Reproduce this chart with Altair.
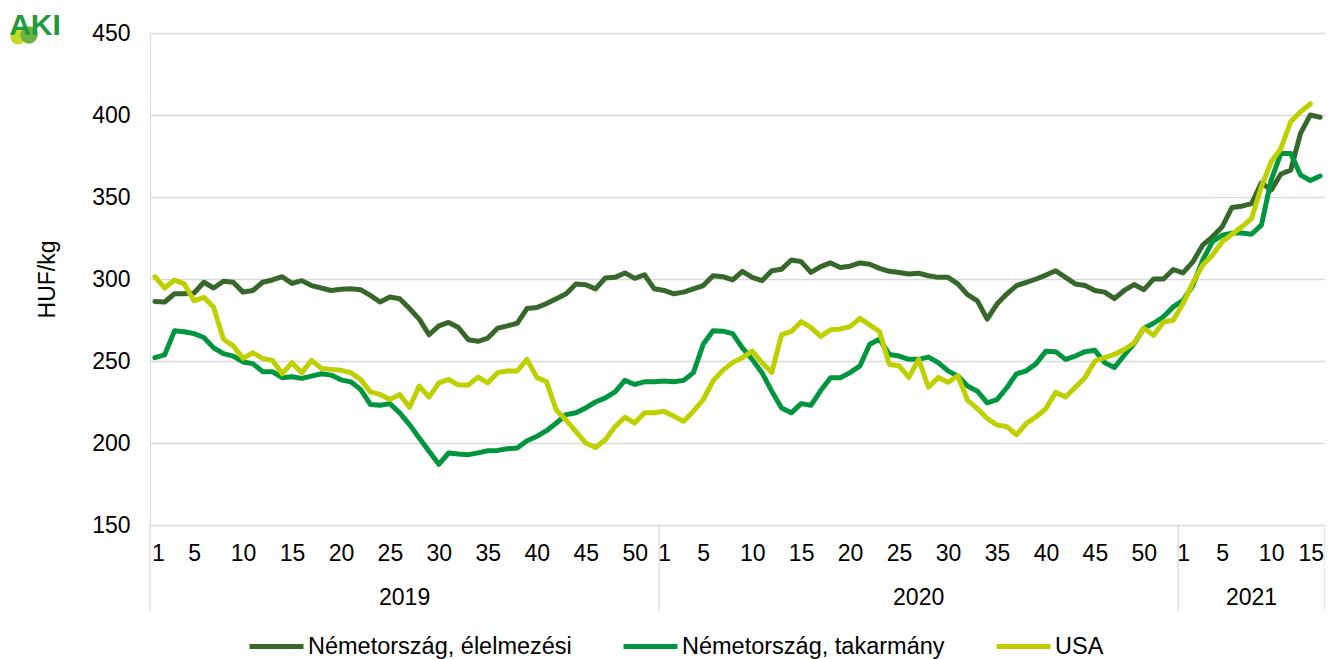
import altair as alt
import pandas as pd

# ---------------- data ----------------
series_names = ["Németország, élelmezési", "Németország, takarmány", "USA"]
series_colors = ["#38672c", "#009640", "#bed000"]

years = ["2019", "2020", "2021"]
weeks_per_year = [52, 53, 15]
week_ticks = [
    [1, 5, 10, 15, 20, 25, 30, 35, 40, 45, 50],
    [1, 5, 10, 15, 20, 25, 30, 35, 40, 45, 50],
    [1, 5, 10, 15],
]
y_ticks = [150, 200, 250, 300, 350, 400, 450]

food = [
    286.3, 286, 291, 291, 291.5, 298, 294.5, 298.6, 298, 292,
    293, 298, 299.4, 301.4, 297.3, 299, 296, 294.5, 293, 293.7,
    294, 293.5, 290, 286, 289, 288, 282, 275.5, 266, 271.4,
    273.5, 270.4, 263, 262, 264, 270, 271.4, 273, 282, 282.6,
    285, 288, 291, 297, 296.5, 294, 300.6, 301, 303.7, 300.4,
    302.6, 294,
    293, 291, 292, 294, 296, 302, 301.4, 299.4, 304.7, 301,
    299, 305, 306, 311.6, 310.6, 304, 307.5, 309.8, 307, 307.8,
    309.8, 309, 306.5, 304.7, 304, 303, 303.5, 302, 301, 301,
    297, 290.4, 286.7, 275.5, 284.7, 290.8, 296, 298, 300, 302.4,
    305, 301, 297, 296, 293, 292, 288, 293, 296.6, 293.5,
    300, 300, 305.8,
    303.7, 310.4, 320.6, 325.7, 331.8, 343.6, 344.4, 346, 358.7, 354.2,
    364, 366.4, 388.8, 400, 398.6,
]

feed = [
    252, 253.7, 268.4, 267.8, 266.7, 264.3, 258, 254.5, 253, 249.4,
    248.4, 243.5, 243.5, 239.8, 240.4, 239.4, 240.8, 242.2, 241.4, 238.5,
    237.3, 232.7, 223.5, 223, 224, 218.4, 211.2, 203, 195, 187,
    193.9, 193.3, 192.9, 194, 195.3, 195.5, 196.5, 197, 201.4, 204,
    207.5, 212.2, 217.3, 218.4, 221.4, 225, 227.5, 231.2, 238.2, 235.7,
    237.3, 237.3,
    237.8, 237.3, 238.2, 242.9, 260.2, 268.4, 268.2, 266.7, 258, 251,
    242.9, 231.6, 221.4, 218.4, 224, 223, 232, 239.8, 239.8, 242.9,
    247, 260.2, 263.3, 254, 253, 251, 251, 252.4, 249, 244,
    240.8, 234.7, 231.6, 224.5, 226.5, 233.7, 242.2, 244, 248.4, 256,
    255.7, 251, 253, 255.7, 256.5, 249, 246, 253.5, 260.6, 270,
    273, 277, 283,
    287, 296, 311.5, 322.7, 326.7, 328, 328, 327.3, 332.8, 360.3,
    376.6, 376.6, 363.4, 360, 362.8,
]

usa = [
    301.4, 294.5, 299.4, 297, 286.7, 288.8, 282.7, 263.3, 259.2, 251.6,
    255, 251.6, 250.4, 242.2, 249, 242.9, 250.4, 245.5, 244.9, 244.3,
    242.9, 238.8, 231.2, 229.6, 226.5, 229.6, 221.8, 234.7, 228, 236.7,
    238.8, 235.3, 235.3, 240.2, 236.7, 242.9, 243.9, 243.9, 251, 240,
    237.3, 220, 214, 207, 200, 197.3, 202, 210, 215.7, 212.2,
    218.4, 218.4,
    219.4, 216.3, 213.3, 219.4, 226.5, 237.8, 244.3, 249, 252, 256,
    249, 243, 266, 268, 274, 270.5, 265, 269, 269.5, 271,
    276, 272, 268, 248, 247, 240, 251, 234, 240, 237,
    241, 226, 221, 215, 211, 210, 205, 212, 216, 221,
    231, 228, 234, 240, 250, 252, 254, 257, 261, 270,
    265.7, 273.8, 274.8,
    285, 297.6, 308.4, 314.5, 322.7, 327.3, 331.8, 336.9, 356.2, 371.5,
    379.6, 395.9, 402, 406.7,
]

# ---------------- derived tables ----------------
rows = []
for name, vals in zip(series_names, [food, feed, usa]):
    for i, v in enumerate(vals):
        rows.append({"idx": i, "value": v, "series": name})
df = pd.DataFrame(rows)

n_total = sum(weeks_per_year)
offsets = [sum(weeks_per_year[:k]) for k in range(len(weeks_per_year))]
tick_vals = [offsets[k] + w - 1 for k in range(len(years)) for w in week_ticks[k]]
label_expr = (
    f"datum.value < {offsets[1]} ? '' + (datum.value + 1) : "
    f"(datum.value < {offsets[2]} ? '' + (datum.value - {offsets[1] - 1}) : '' + (datum.value - {offsets[2] - 1}))"
)
boundaries = [o - 0.5 for o in offsets] + [n_total - 0.5]
year_df = pd.DataFrame({
    "year": years,
    "center": [(boundaries[k] + boundaries[k + 1]) / 2 for k in range(len(years))],
})
sep_df = pd.DataFrame({"b": boundaries})

FONT = "Liberation Sans"
FS = 23
W, H = 1175, 492

x_scale = alt.Scale(domain=[-0.5, n_total - 0.5], nice=False, zero=False)
x_axis = alt.Axis(values=tick_vals, labelExpr=label_expr, title=None, grid=False,
                  ticks=False, tickSize=0, domain=False, labelFontSize=FS,
                  labelPadding=28, labelBaseline="middle", labelColor="#000000",
                  labelFlush=8, labelFlushOffset=3.5, labelOverlap=False, labelFont=FONT)

lines = alt.Chart(df).mark_line(strokeWidth=5, strokeJoin="round", strokeCap="round").encode(
    x=alt.X("idx:Q", scale=x_scale, axis=x_axis),
    y=alt.Y("value:Q", scale=alt.Scale(domain=[150, 450], nice=False, zero=False),
            axis=alt.Axis(values=y_ticks, title="HUF/kg", grid=True, gridColor="#d9d9d9",
                          gridWidth=1.3, domain=False, ticks=False, labelFontSize=FS,
                          labelPadding=20, labelColor="#000000", labelFont=FONT,
                          titleFontSize=FS, titleFontWeight="normal", titleColor="#000000",
                          titleFont=FONT, titleX=-103, titleY=246, titleAngle=270,
                          titleAlign="center", titleBaseline="middle")),
    color=alt.Color("series:N",
                    scale=alt.Scale(domain=series_names, range=series_colors),
                    legend=alt.Legend(title=None, orient="none", legendX=97, legendY=584,
                                      direction="horizontal", symbolType="stroke",
                                      symbolSize=2916, symbolStrokeWidth=5,
                                      labelFontSize=23.5, labelFont=FONT, labelColor="#000000",
                                      labelOffset=2, columnPadding=41, labelLimit=500)),
)

seps = alt.Chart(sep_df).mark_rule(color="#d9d9d9", strokeWidth=1.3).encode(
    x=alt.X("b:Q", scale=x_scale, axis=x_axis),
    y=alt.value(H),
    y2=alt.value(H + 86),
)

year_text = alt.Chart(year_df).mark_text(fontSize=FS, font=FONT, color="#000000",
                                         align="center", baseline="middle").encode(
    x=alt.X("center:Q", scale=x_scale, axis=x_axis),
    y=alt.value(H + 73),
    text="year:N",
)

logo_df = pd.DataFrame({"t": ["AKI"]})
logo_c1 = alt.Chart(logo_df).mark_point(filled=True, shape="circle", color="#c8d92b", opacity=1).encode(
    x=alt.value(-132), y=alt.value(4), size=alt.value(230))
logo_c2 = alt.Chart(logo_df).mark_point(filled=True, shape="circle", color="#6db33f", opacity=1).encode(
    x=alt.value(-121), y=alt.value(2), size=alt.value(300))
logo_text = alt.Chart(logo_df).mark_text(fontSize=30, font=FONT, fontWeight="bold",
                                         color="#1f9a3a", align="center", baseline="middle").encode(
    x=alt.value(-115), y=alt.value(-7), text="t:N")

chart = alt.layer(lines, seps, year_text, logo_c1, logo_c2, logo_text).properties(
    width=W, height=H,
    autosize=alt.AutoSizeParams(type="none"),
    padding={"left": 142, "top": 25, "right": 0, "bottom": 134},
    background="white",
).configure_view(stroke=None).configure(font=FONT)

chart.save("out.html", embed_options={"renderer": "svg", "actions": False})
